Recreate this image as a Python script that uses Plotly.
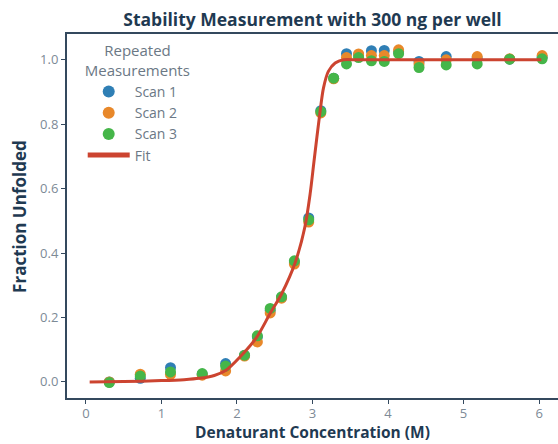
import plotly.graph_objects as go

# Data
conc = [0.31, 0.72, 1.12, 1.54, 1.85, 2.10, 2.27, 2.44, 2.59, 2.76, 2.95, 3.11,
        3.28, 3.45, 3.61, 3.78, 3.95, 4.14, 4.41, 4.77, 5.18, 5.61, 6.04]
scan1 = [0.000, 0.011, 0.044, 0.024, 0.057, 0.082, 0.140, 0.222, 0.262, 0.372, 0.509, 0.842,
         0.943, 1.019, 1.015, 1.028, 1.029, 1.025, 0.995, 1.010, 1.005, 1.002, 1.008]
scan2 = [0.000, 0.024, 0.023, 0.021, 0.034, 0.080, 0.124, 0.214, 0.260, 0.366, 0.496, 0.835,
         0.941, 1.007, 1.018, 1.013, 1.013, 1.031, 0.987, 1.000, 1.010, 1.003, 1.013]
scan3 = [-0.002, 0.018, 0.031, 0.026, 0.049, 0.083, 0.143, 0.228, 0.264, 0.376, 0.503, 0.839,
         0.943, 0.987, 1.007, 0.997, 0.995, 1.019, 0.976, 0.984, 0.987, 1.002, 1.003]

fit_x = [0.05, 0.5, 1.0, 1.3, 1.5, 1.7, 1.85, 2.04, 2.26, 2.44, 2.59, 2.77, 2.90,
         2.97, 3.02, 3.10, 3.145, 3.21, 3.30, 3.41, 3.6, 4.0, 5.0, 6.03]
fit_y = [0.000, 0.001, 0.004, 0.007, 0.011, 0.020, 0.035, 0.077, 0.138, 0.213, 0.273, 0.370, 0.482,
         0.586, 0.685, 0.839, 0.912, 0.964, 0.990, 1.000, 1.000, 1.000, 1.000, 1.000]

scan_names = ["Scan 1", "Scan 2", "Scan 3"]
scan_colors = ["#2f7fb5", "#e8882a", "#45b649"]
fit_color = "#cc4430"

FONT = "Open Sans"
DARK = "#1f3a52"
AXIS = "#34495e"
TICK = "#7d8a96"
LEG = "#6b7885"

fig = go.Figure()
for name, vals, col in zip(scan_names, [scan1, scan2, scan3], scan_colors):
    fig.add_trace(go.Scatter(x=conc, y=vals, mode="markers", name=name,
                             marker=dict(color=col, size=11, line=dict(width=0))))
fig.add_trace(go.Scatter(x=fit_x, y=fit_y, mode="lines", name="Fit",
                         line=dict(color=fit_color, width=3, shape="spline", smoothing=0.8)))

fig.update_layout(
    width=558, height=444,
    margin=dict(l=67, r=0, t=34, b=46, autoexpand=False),
    paper_bgcolor="white", plot_bgcolor="white",
    font=dict(family=FONT, color=TICK, size=13),
    title=dict(text="<b>Stability Measurement with 300 ng per well</b>",
               x=0.5, xref="paper", xanchor="center", y=0.955, yref="container",
               yanchor="middle",
               font=dict(size=17.5, color=DARK, family=FONT)),
    legend=dict(x=0.032, y=0.992, xanchor="left", yanchor="top",
                bgcolor="rgba(0,0,0,0)", itemwidth=42,
                title=dict(text="&nbsp;&nbsp;&nbsp;&nbsp;&nbsp;Repeated<br>Measurements",
                           side="top",
                           font=dict(size=15, color=LEG)),
                font=dict(size=14, color=LEG), itemsizing="constant"),
    showlegend=True,
)
fig.update_xaxes(range=[-0.25, 6.25], tickvals=[0, 1, 2, 3, 4, 5, 6],
                 showgrid=False, zeroline=False, automargin=False,
                 showline=True, linecolor=AXIS, linewidth=2, mirror=True,
                 ticks="outside", ticklen=4, tickcolor=AXIS, tickwidth=1,
                 ticklabelstandoff=-2,
                 tickfont=dict(size=13, color=TICK))
fig.update_yaxes(range=[-0.05, 1.08], tickvals=[0, 0.2, 0.4, 0.6, 0.8, 1.0],
                 tickformat=".1f", automargin=False,
                 showgrid=False, zeroline=False,
                 showline=True, linecolor=AXIS, linewidth=2, mirror=False,
                 ticks="outside", ticklen=4, tickcolor=AXIS, tickwidth=1,
                 tickfont=dict(size=13, color=TICK))
fig.add_annotation(text="<b>Denaturant Concentration (M)</b>",
                   xref="paper", yref="paper", x=0.5, y=-0.125,
                   xanchor="center", yanchor="bottom", showarrow=False, borderpad=0,
                   font=dict(size=15.5, color=DARK, family=FONT))
fig.add_annotation(text="<b>Fraction Unfolded</b>", textangle=-90,
                   xref="paper", yref="paper", x=-0.098, y=0.5,
                   xanchor="center", yanchor="middle", showarrow=False,
                   font=dict(size=17, color=DARK, family=FONT))

fig.write_html("out.html", config={"displayModeBar": False},
               post_script="document.body.style.margin='0';document.body.style.padding='0';")
